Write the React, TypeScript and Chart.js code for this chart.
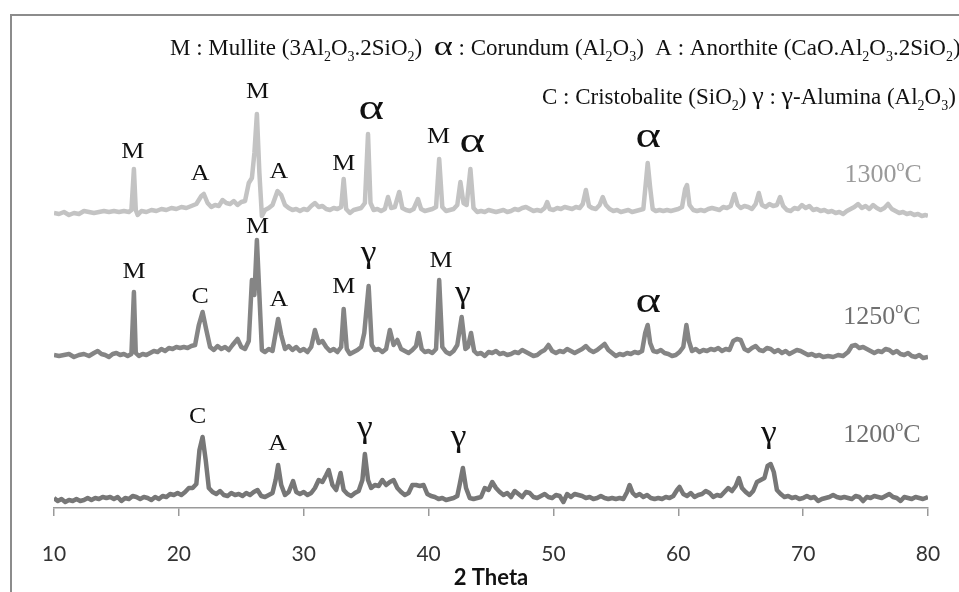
import React, { useEffect, useRef } from "react";
import { Chart, registerables } from "chart.js";

Chart.register(...registerables);

// 2θ axis
const TWO_THETA_MIN = 10;
const TWO_THETA_MAX = 80;
const TWO_THETA_STEP = 10;

// vertical stacking offsets of the three patterns (arbitrary intensity units)
const OFFSET_1300 = 295;
const OFFSET_1250 = 153;
const OFFSET_1200 = 8;

// [2θ, intensity] — sample fired at 1300 °C
const pattern1300: [number, number][] = [
  [10.0, 0], [10.4, -1], [10.8, 1], [11.2, -2], [11.6, 0], [12.0, -1], [12.4, 2], [12.8, 1], [13.2, 0], [13.6, 1],
  [14.0, 2], [14.4, 1], [14.8, 2], [15.2, 1], [15.6, 2], [16.0, 1], [16.2, 3], [16.4, 44], [16.55, 3], [16.7, -2],
  [17.0, 2], [17.4, 1], [17.8, 3], [18.2, 2], [18.6, 4], [19.0, 3], [19.4, 5], [19.8, 4], [20.2, 6], [20.6, 5],
  [21.0, 7], [21.4, 9], [21.8, 17], [22.0, 19], [22.3, 10], [22.6, 6], [22.9, 8], [23.2, 7], [23.5, 13], [23.8, 10],
  [24.1, 9], [24.4, 12], [24.7, 8], [25.0, 11], [25.3, 12], [25.6, 30], [25.85, 35], [26.05, 60], [26.25, 99], [26.45, 40],
  [26.65, -3], [26.9, 3], [27.2, 5], [27.5, 8], [27.9, 22], [28.2, 18], [28.5, 8], [28.8, 5], [29.1, 3], [29.4, 4],
  [29.7, 2], [30.0, 4], [30.3, 3], [30.6, 7], [30.9, 10], [31.2, 6], [31.5, 7], [31.8, 4], [32.1, 3], [32.4, 5],
  [32.7, 4], [33.0, 6], [33.2, 34], [33.4, 4], [33.7, 0], [34.0, 3], [34.3, 4], [34.6, 5], [34.9, 10], [35.15, 79],
  [35.35, 10], [35.6, 3], [35.9, 4], [36.2, 2], [36.5, 4], [36.75, 16], [37.0, 5], [37.3, 6], [37.65, 21], [37.9, 5],
  [38.2, 3], [38.5, 2], [38.8, 4], [39.15, 14], [39.4, 4], [39.7, 2], [40.0, 3], [40.3, 4], [40.6, 6], [40.85, 54],
  [41.1, 6], [41.4, 2], [41.7, 3], [42.0, 4], [42.3, 8], [42.55, 31], [42.8, 10], [43.05, 8], [43.35, 44], [43.6, 5],
  [43.9, 1], [44.2, 2], [44.5, 1], [44.8, 3], [45.1, 2], [45.4, 1], [45.7, 2], [46.0, 3], [46.3, 1], [46.6, 2],
  [46.9, 4], [47.2, 3], [47.5, 5], [47.8, 6], [48.1, 4], [48.4, 2], [48.7, 3], [49.0, 2], [49.3, 5], [49.5, 11],
  [49.7, 4], [50.0, 3], [50.3, 5], [50.6, 4], [50.9, 6], [51.2, 5], [51.5, 4], [51.8, 6], [52.1, 5], [52.35, 9],
  [52.6, 23], [52.85, 7], [53.1, 5], [53.4, 4], [53.7, 8], [53.95, 16], [54.2, 8], [54.5, 4], [54.8, 2], [55.1, 3],
  [55.4, 1], [55.7, 2], [56.0, 3], [56.3, 1], [56.6, 2], [56.9, 3], [57.2, 4], [57.4, 30], [57.55, 50], [57.75, 25],
  [57.95, 4], [58.2, 2], [58.5, 3], [58.8, 2], [59.1, 3], [59.4, 2], [59.7, 3], [60.0, 4], [60.3, 6], [60.55, 24],
  [60.7, 28], [60.9, 8], [61.2, 3], [61.5, 2], [61.8, 3], [62.1, 2], [62.4, 4], [62.7, 5], [63.0, 4], [63.3, 3],
  [63.6, 6], [63.9, 5], [64.2, 7], [64.5, 19], [64.75, 8], [65.0, 5], [65.3, 7], [65.6, 6], [65.9, 4], [66.2, 9],
  [66.45, 20], [66.7, 8], [67.0, 6], [67.3, 9], [67.6, 7], [67.9, 8], [68.15, 16], [68.4, 7], [68.7, 3], [69.0, 2],
  [69.3, 5], [69.6, 4], [69.9, 8], [70.2, 5], [70.5, 7], [70.8, 3], [71.1, 4], [71.4, 2], [71.7, 3], [72.0, 1],
  [72.3, 2], [72.6, 0], [72.9, 1], [73.2, -1], [73.5, 2], [73.8, 4], [74.1, 6], [74.4, 9], [74.7, 5], [75.0, 7],
  [75.3, 4], [75.6, 8], [75.9, 5], [76.2, 3], [76.5, 5], [76.8, 9], [77.1, 4], [77.4, 2], [77.7, 0], [78.0, 1],
  [78.3, -1], [78.6, 0], [78.9, -2], [79.2, -1], [79.5, -3], [79.8, -2], [80.0, -3],
];

// [2θ, intensity] — sample fired at 1250 °C
const pattern1250: [number, number][] = [
  [10.0, 0], [10.4, -1], [10.8, 0], [11.2, 1], [11.6, -2], [12.0, 0], [12.4, 1], [12.8, -1], [13.2, 2], [13.5, 4],
  [13.8, 1], [14.1, 0], [14.4, -2], [14.7, 1], [15.0, 2], [15.3, 0], [15.6, 1], [15.9, -1], [16.2, 1], [16.4, 63],
  [16.55, 2], [16.8, -1], [17.1, 1], [17.4, 0], [17.7, 2], [18.0, 4], [18.3, 3], [18.6, 6], [18.9, 4], [19.2, 7],
  [19.5, 6], [19.8, 8], [20.1, 7], [20.4, 8], [20.7, 7], [21.0, 9], [21.3, 10], [21.6, 30], [21.9, 43], [22.2, 25],
  [22.5, 8], [22.8, 5], [23.1, 9], [23.4, 6], [23.7, 8], [24.0, 5], [24.3, 10], [24.7, 16], [25.0, 8], [25.3, 6],
  [25.6, 14], [25.85, 75], [26.05, 60], [26.25, 115], [26.45, 60], [26.65, 5], [26.9, 3], [27.2, 6], [27.5, 4], [27.95, 36],
  [28.2, 20], [28.5, 6], [28.8, 9], [29.1, 5], [29.4, 8], [29.7, 4], [30.0, 6], [30.3, 3], [30.6, 8], [30.9, 25],
  [31.2, 12], [31.5, 14], [31.8, 8], [32.1, 4], [32.4, 6], [32.7, 3], [33.0, 8], [33.2, 46], [33.45, 6], [33.7, 1],
  [34.0, 3], [34.3, 5], [34.6, 8], [34.85, 22], [35.2, 69], [35.45, 10], [35.7, 5], [36.0, 6], [36.3, 3], [36.6, 6],
  [36.9, 25], [37.2, 10], [37.5, 15], [37.8, 6], [38.1, 4], [38.4, 2], [38.7, 5], [39.0, 9], [39.2, 22], [39.45, 6],
  [39.7, 3], [40.0, 4], [40.3, 2], [40.6, 6], [40.85, 75], [41.1, 8], [41.4, 3], [41.7, 1], [42.0, 4], [42.3, 10],
  [42.65, 38], [42.95, 6], [43.15, 8], [43.4, 22], [43.65, 4], [43.9, 1], [44.2, 2], [44.5, -1], [44.8, 3], [45.1, 2],
  [45.4, 4], [45.7, 1], [46.0, 2], [46.3, 0], [46.6, 1], [46.9, 3], [47.2, 2], [47.5, 5], [47.8, 3], [48.1, 1],
  [48.4, -1], [48.7, 0], [49.0, 3], [49.3, 5], [49.6, 10], [49.9, 4], [50.2, 2], [50.5, 4], [50.8, 3], [51.1, 6],
  [51.4, 4], [51.7, 2], [52.0, 4], [52.3, 6], [52.6, 9], [52.9, 5], [53.2, 3], [53.5, 5], [53.8, 8], [54.1, 11],
  [54.4, 5], [54.7, 2], [55.0, -1], [55.3, 1], [55.6, 0], [55.9, 2], [56.2, 1], [56.5, 3], [56.8, 2], [57.1, 4],
  [57.35, 22], [57.55, 30], [57.75, 12], [58.0, 4], [58.3, 3], [58.6, 5], [58.9, 2], [59.2, 1], [59.5, -1], [59.8, 0],
  [60.1, 3], [60.4, 8], [60.65, 30], [60.85, 14], [61.1, 4], [61.4, 6], [61.7, 3], [62.0, 5], [62.3, 4], [62.6, 6],
  [62.9, 5], [63.2, 7], [63.5, 4], [63.8, 6], [64.1, 5], [64.4, 14], [64.7, 16], [65.0, 15], [65.3, 6], [65.6, 4],
  [65.9, 7], [66.2, 9], [66.5, 5], [66.8, 4], [67.1, 7], [67.4, 6], [67.7, 3], [68.0, 5], [68.3, 2], [68.6, 4],
  [68.9, 1], [69.2, 3], [69.5, 5], [69.8, 4], [70.1, 2], [70.4, 0], [70.7, 1], [71.0, -1], [71.3, 0], [71.6, -2],
  [72.0, -1], [72.4, -2], [72.8, 0], [73.2, -1], [73.6, 3], [73.9, 9], [74.2, 10], [74.5, 7], [74.8, 8], [75.1, 6],
  [75.4, 4], [75.7, 2], [76.0, 4], [76.3, 3], [76.6, 6], [76.9, 5], [77.2, 2], [77.5, 4], [77.8, 1], [78.1, 0],
  [78.4, 2], [78.7, -1], [79.0, -2], [79.3, 0], [79.6, -3], [80.0, -2],
];

// [2θ, intensity] — sample fired at 1200 °C
const pattern1200: [number, number][] = [
  [10.0, 2], [10.3, -1], [10.6, 1], [10.9, -2], [11.2, 0], [11.5, -1], [11.8, 1], [12.1, -1], [12.4, 0], [12.7, 2],
  [13.0, 0], [13.3, 2], [13.6, 1], [13.9, 3], [14.2, 2], [14.5, 3], [14.8, 1], [15.1, 3], [15.4, -1], [15.7, 2],
  [16.0, 1], [16.3, 4], [16.6, 3], [16.9, 1], [17.2, 3], [17.5, 2], [17.8, 0], [18.1, 3], [18.4, 1], [18.7, 4],
  [19.0, 3], [19.3, 6], [19.6, 5], [19.9, 7], [20.2, 5], [20.5, 8], [20.8, 12], [21.1, 12], [21.4, 16], [21.65, 50],
  [21.9, 63], [22.15, 40], [22.4, 12], [22.7, 8], [23.0, 6], [23.3, 9], [23.6, 5], [23.9, 4], [24.2, 7], [24.5, 5],
  [24.8, 6], [25.1, 4], [25.4, 7], [25.7, 5], [26.0, 8], [26.3, 10], [26.6, 4], [26.9, 3], [27.2, 5], [27.5, 7],
  [27.75, 20], [27.95, 35], [28.2, 15], [28.5, 5], [28.8, 8], [29.15, 19], [29.4, 8], [29.7, 6], [30.0, 8], [30.3, 5],
  [30.6, 7], [30.9, 12], [31.2, 20], [31.5, 18], [31.8, 25], [32.0, 30], [32.3, 15], [32.6, 10], [32.95, 27], [33.2, 10],
  [33.5, 6], [33.8, 4], [34.1, 7], [34.4, 9], [34.7, 20], [34.9, 46], [35.15, 20], [35.4, 12], [35.7, 15], [36.0, 14],
  [36.3, 20], [36.6, 15], [36.9, 18], [37.2, 20], [37.5, 12], [37.8, 8], [38.1, 5], [38.4, 7], [38.7, 15], [39.0, 15],
  [39.3, 14], [39.6, 15], [39.9, 6], [40.2, 4], [40.5, 3], [40.8, 1], [41.1, 2], [41.4, 0], [41.7, 1], [42.0, 2],
  [42.3, 4], [42.5, 16], [42.75, 32], [43.0, 12], [43.3, 2], [43.6, 1], [43.9, 2], [44.2, 3], [44.5, 12], [44.8, 10],
  [45.1, 18], [45.4, 12], [45.7, 8], [46.0, 5], [46.3, 7], [46.6, 3], [46.9, 9], [47.2, 6], [47.5, 3], [47.8, 8],
  [48.1, 7], [48.4, 3], [48.7, 2], [49.0, 4], [49.3, 6], [49.6, 3], [49.9, 2], [50.2, 5], [50.5, 4], [50.8, -2],
  [51.1, 6], [51.4, 3], [51.7, 6], [52.0, 5], [52.3, 4], [52.6, 2], [52.9, 3], [53.2, 1], [53.5, 2], [53.8, 4],
  [54.1, 2], [54.4, 1], [54.7, 2], [55.0, 1], [55.3, 2], [55.6, 1], [55.9, 8], [56.1, 15], [56.35, 7], [56.6, 4],
  [56.9, 6], [57.2, 3], [57.5, 5], [57.8, 2], [58.1, 1], [58.4, 2], [58.7, 1], [59.0, 3], [59.3, 2], [59.6, 4],
  [59.9, 10], [60.1, 13], [60.4, 6], [60.7, 4], [61.0, 7], [61.3, 3], [61.6, 5], [61.9, 6], [62.2, 9], [62.5, 7],
  [62.8, 3], [63.1, 5], [63.4, 4], [63.7, 8], [64.0, 12], [64.3, 9], [64.6, 14], [64.85, 22], [65.1, 12], [65.4, 8],
  [65.7, 5], [66.0, 9], [66.3, 18], [66.6, 20], [66.9, 22], [67.15, 34], [67.4, 36], [67.65, 28], [67.9, 10], [68.2, 6],
  [68.5, 3], [68.8, 4], [69.1, 2], [69.4, 3], [69.7, 1], [70.0, 2], [70.3, 4], [70.6, 2], [70.9, 3], [71.2, -1],
  [71.5, 1], [71.8, 2], [72.1, 3], [72.4, 5], [72.7, 3], [73.0, 2], [73.3, 3], [73.6, 2], [73.9, 1], [74.2, 4],
  [74.5, 3], [74.8, -1], [75.1, 3], [75.4, 2], [75.7, 4], [76.0, 3], [76.3, 2], [76.6, 4], [76.9, 6], [77.2, 3],
  [77.5, 2], [77.8, -1], [78.1, 3], [78.4, 2], [78.7, 1], [79.0, 3], [79.3, 2], [79.6, 1], [80.0, 3],
];

// phase marks: [symbol, 2θ, height above the pattern's baseline]
const phases1300: [string, number, number][] = [
  ["M", 16.3, 63], ["A", 21.7, 41], ["M", 26.3, 123], ["A", 28.0, 43], ["M", 33.2, 51],
  ["α", 35.4, 103], ["M", 40.8, 78], ["α", 43.5, 70], ["α", 57.6, 75],
];
const phases1250: [string, number, number][] = [
  ["M", 16.4, 85], ["C", 21.7, 60], ["M", 26.3, 130], ["A", 28.0, 57], ["M", 33.2, 70],
  ["γ", 35.2, 97], ["M", 41.0, 96], ["γ", 42.75, 57], ["α", 57.6, 52],
];
const phases1200: [string, number, number][] = [
  ["C", 21.5, 85], ["A", 27.9, 58], ["γ", 34.9, 67], ["γ", 42.4, 58], ["γ", 67.25, 62],
];

// firing temperatures: [label, 2θ, height above baseline]
const temp1300: [string, number, number] = ["1300", 76.4, 40];
const temp1250: [string, number, number] = ["1250", 76.3, 40];
const temp1200: [string, number, number] = ["1200", 76.3, 67];

type Seg = { t: string; sub?: boolean; sup?: boolean; size?: number; sx?: number };

const SERIF = '"Liberation Serif", "Times New Roman", serif';

function segFont(s: Seg, size: number) {
  const base = s.size ?? size;
  const px = s.sub || s.sup ? Math.round(base * 0.62) : base;
  return `${px}px ${SERIF}`;
}

// draws a run of text with sub/superscripts, left aligned on an alphabetic baseline
function drawRich(ctx: CanvasRenderingContext2D, segs: Seg[], x: number, y: number, size: number, color: string) {
  ctx.save();
  ctx.fillStyle = color;
  ctx.textBaseline = "alphabetic";
  ctx.textAlign = "left";
  let cx = x;
  for (const s of segs) {
    ctx.font = segFont(s, size);
    const w = ctx.measureText(s.t).width * (s.sx ?? 1);
    const dy = s.sub ? size * 0.24 : s.sup ? -size * 0.42 : 0;
    ctx.save();
    ctx.translate(cx, y + dy);
    ctx.scale(s.sx ?? 1, 1);
    ctx.fillText(s.t, 0, 0);
    ctx.restore();
    cx += w;
  }
  ctx.restore();
}

// draws one glyph with its ink centred on (x, y)
function drawCentered(ctx: CanvasRenderingContext2D, text: string, x: number, y: number, font: string, sx: number, color: string) {
  ctx.save();
  ctx.font = font;
  ctx.fillStyle = color;
  ctx.textAlign = "center";
  ctx.textBaseline = "alphabetic";
  const m = ctx.measureText(text);
  const asc = m.actualBoundingBoxAscent;
  const desc = m.actualBoundingBoxDescent;
  ctx.translate(x, y + (asc - desc) / 2);
  ctx.scale(sx, 1);
  ctx.fillText(text, 0, 0);
  ctx.restore();
}

const legendLine1: Seg[] = [
  { t: "M : Mullite (3Al" }, { t: "2", sub: true }, { t: "O" }, { t: "3", sub: true }, { t: ".2SiO" }, { t: "2", sub: true }, { t: ")  " },
  { t: "α", size: 28, sx: 1.3 }, { t: " : Corundum (Al" }, { t: "2", sub: true }, { t: "O" }, { t: "3", sub: true }, { t: ")  " },
  { t: "A : Anorthite (CaO.Al" }, { t: "2", sub: true }, { t: "O" }, { t: "3", sub: true }, { t: ".2SiO" }, { t: "2", sub: true }, { t: ")" },
];
const legendLine2: Seg[] = [
  { t: "C : Cristobalite (SiO" }, { t: "2", sub: true }, { t: ") " },
  { t: "γ", size: 26 }, { t: " : " }, { t: "γ", size: 26 }, { t: "-Alumina (Al" }, { t: "2", sub: true }, { t: "O" }, { t: "3", sub: true }, { t: ")" },
];

const markPlugin = {
  id: "phaseMarks",
  afterDatasetsDraw(chart: any) {
    const ctx: CanvasRenderingContext2D = chart.ctx;
    const xs = chart.scales.x;
    const ys = chart.scales.y;

    // outer frame
    ctx.save();
    ctx.strokeStyle = "#8c8c8c";
    ctx.lineWidth = 2;
    ctx.strokeRect(11, 15, 1000, 1000);
    ctx.restore();

    // phase key
    drawRich(ctx, legendLine1, 170, 55, 23, "#111");
    drawRich(ctx, legendLine2, 542, 104, 23, "#111");

    const groups: [[string, number, number][], number][] = [
      [phases1300, OFFSET_1300],
      [phases1250, OFFSET_1250],
      [phases1200, OFFSET_1200],
    ];
    for (const [marks, off] of groups) {
      for (const [sym, tt, h] of marks) {
        const px = xs.getPixelForValue(tt);
        const py = ys.getPixelForValue(off + h);
        if (sym === "α") drawCentered(ctx, sym, px, py, `36px ${SERIF}`, 1.35, "#111");
        else if (sym === "γ") drawCentered(ctx, sym, px, py, `31px ${SERIF}`, 1.15, "#111");
        else drawCentered(ctx, sym, px, py, `24px ${SERIF}`, 1.08, "#111");
      }
    }

    const temps: [[string, number, number], number, string][] = [
      [temp1300, OFFSET_1300, "#9a9a9a"],
      [temp1250, OFFSET_1250, "#707070"],
      [temp1200, OFFSET_1200, "#707070"],
    ];
    for (const [[t, tt, h], off, color] of temps) {
      const cx = xs.getPixelForValue(tt);
      const cy = ys.getPixelForValue(off + h);
      const size = 26;
      const segs: Seg[] = [{ t }, { t: "o", sup: true }, { t: "C" }];
      ctx.save();
      let w = 0;
      for (const s of segs) {
        ctx.font = segFont(s, size);
        w += ctx.measureText(s.t).width;
      }
      ctx.font = segFont(segs[0], size);
      const asc = ctx.measureText(t).actualBoundingBoxAscent;
      ctx.restore();
      drawRich(ctx, segs, cx - w / 2, cy + asc / 2, size, color);
    }
  },
};

function toPoints(pattern: [number, number][], offset: number) {
  return pattern.map(([x, y]) => ({ x, y: y + offset }));
}

export default function App() {
  const canvasRef = useRef<HTMLCanvasElement | null>(null);

  useEffect(() => {
    const canvas = canvasRef.current;
    if (!canvas) return;
    const line = (data: { x: number; y: number }[], color: string) => ({
      data,
      borderColor: color,
      borderWidth: 4.5,
      pointRadius: 0,
      tension: 0,
      fill: false,
      borderJoinStyle: "round" as const,
    });
    const chart = new Chart(canvas, {
      type: "line",
      data: {
        datasets: [
          { label: "1300 °C", ...line(toPoints(pattern1300, OFFSET_1300), "#c3c3c3") },
          { label: "1250 °C", ...line(toPoints(pattern1250, OFFSET_1250), "#858585") },
          { label: "1200 °C", ...line(toPoints(pattern1200, OFFSET_1200), "#777777") },
        ],
      },
      options: {
        animation: false,
        responsive: false,
        layout: { padding: { left: 54, right: 31, top: 20, bottom: 0 } },
        plugins: { legend: { display: false }, tooltip: { enabled: false } },
        scales: {
          x: {
            type: "linear",
            min: TWO_THETA_MIN,
            max: TWO_THETA_MAX,
            ticks: {
              stepSize: TWO_THETA_STEP,
              font: { family: "Lato", size: 21 },
              color: "#333",
              padding: 26,
            },
            grid: { drawOnChartArea: false, drawTicks: true, tickLength: 8, color: "#9a9a9a", lineWidth: 1.5 },
            border: { display: true, color: "#9a9a9a", width: 1.5 },
            title: {
              display: true,
              text: "2 Theta",
              font: { family: "Lato", size: 22, weight: "bold" },
              color: "#111",
              padding: { top: 0, bottom: 1 },
            },
            afterFit: (scale: any) => {
              // fixed axis band; edge labels fit inside the layout padding
              scale.height = 84;
              scale.paddingLeft = 0;
              scale.paddingRight = 0;
            },
          },
          y: { display: false, min: 0, max: 488 },
        },
      },
      plugins: [markPlugin],
    });
    return () => chart.destroy();
  }, []);

  return (
    <div style={{ position: "fixed", left: 0, top: 0, width: 959, height: 592, background: "#fff" }}>
      <canvas ref={canvasRef} width={959} height={592} style={{ display: "block" }} />
    </div>
  );
}
